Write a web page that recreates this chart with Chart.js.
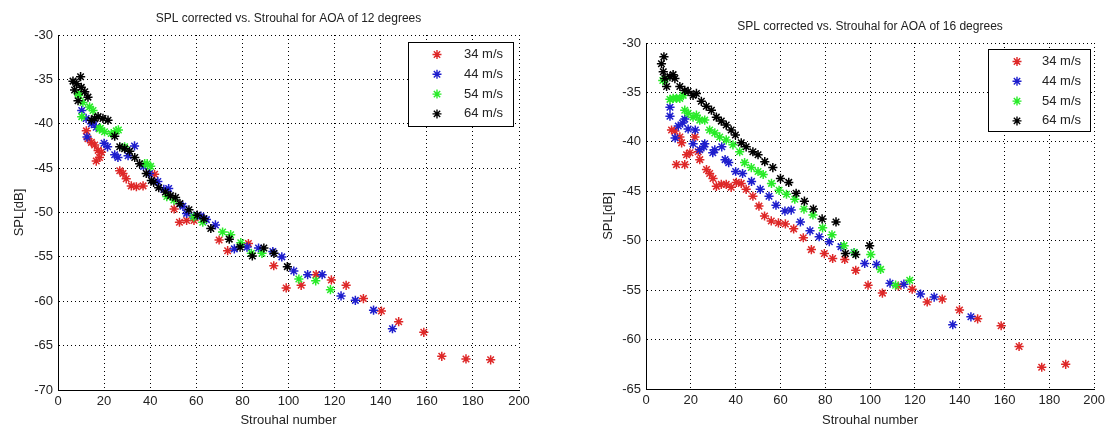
<!DOCTYPE html>
<html>
<head>
<meta charset="utf-8">
<script src="https://cdn.jsdelivr.net/npm/chart.js@4.4.0/dist/chart.umd.min.js"></script>
<style>
  body { margin: 0; background: #fff; width: 1109px; height: 431px; overflow: hidden; }
  canvas { position: absolute; top: 0; }
</style>
</head>
<body>
<canvas id="left" width="555" height="431" style="left:0"></canvas>
<canvas id="right" width="554" height="431" style="left:555px"></canvas>
<script>
// speeds (legend labels)
const speeds = ["34 m/s", "44 m/s", "54 m/s", "64 m/s"];
const colors = ["rgb(222,40,40)", "rgb(30,30,205)", "rgb(40,235,40)", "rgb(0,0,0)"];

// AOA 12 degrees
const a12_34x = [12.3, 13, 14.5, 15.9, 17.4, 18.8, 18, 16.6, 26.8, 28.2, 29.6, 31.8, 34, 36.9, 41.9, 50.4, 52.7, 55.8, 59, 69.9, 73.6, 82.6, 93.6, 99, 105.5, 112, 118.6, 125, 132.5, 140.3, 147.8, 158.7, 166.5, 177, 187.7];
const a12_34y = [-40.8, -41.7, -42.1, -42.4, -43.0, -43.2, -43.8, -44.2, -45.3, -45.6, -46.2, -47.0, -47.1, -47.0, -45.7, -49.6, -51.1, -50.9, -50.9, -53.1, -54.3, -53.5, -56.0, -58.5, -58.2, -57.0, -57.6, -58.2, -59.7, -61.1, -62.3, -63.5, -66.2, -66.5, -66.6];
const a12_44x = [10.3, 12.2, 12.6, 14.5, 15.2, 16.6, 20, 21.5, 24.6, 26, 30.4, 33.2, 37.1, 39.7, 43.3, 45.9, 48, 54.2, 55.8, 58.9, 62, 64.4, 68.3, 76.5, 82, 87, 93.2, 97.1, 102.3, 108.3, 114.6, 122.8, 129, 136.9, 145.1];
const a12_44y = [-38.5, -39.4, -41.5, -40.0, -39.8, -40.4, -42.2, -42.6, -43.5, -43.8, -43.6, -42.5, -44.8, -45.6, -46.5, -47.4, -47.3, -49.3, -50.1, -50.4, -50.4, -50.8, -51.4, -54.1, -53.9, -54.0, -54.4, -55.0, -56.6, -57.0, -57.0, -59.4, -59.9, -61.0, -63.1];
const a12_54x = [8.7, 9.0, 10.3, 10.8, 13.7, 15.2, 18, 18.4, 20.2, 23.1, 25.3, 26.2, 28.9, 37.6, 38.7, 40.2, 47.2, 50.3, 58.9, 62.8, 71.4, 74.9, 79.3, 83.9, 88.5, 104.5, 111.8, 118.2];
const a12_54y = [-36.6, -36.8, -39.2, -37.6, -38.1, -38.5, -40.6, -40.5, -40.9, -41.1, -40.8, -40.7, -42.6, -44.5, -44.5, -44.8, -48.2, -48.6, -50.5, -51.1, -52.2, -52.5, -53.4, -54.6, -54.6, -57.5, -57.7, -58.7];
const a12_64x = [6.5, 8, 9.8, 7.2, 10.1, 11.6, 13, 8.7, 14.5, 15.9, 17.4, 19.5, 21.7, 24.6, 26.8, 28.9, 31.1, 33.3, 35.4, 38.3, 40.5, 41.5, 43.7, 46.6, 48.8, 51, 52.9, 56.8, 60.4, 63.3, 66.3, 74.3, 79, 84.3, 89.3, 93.7, 99.5];
const a12_64y = [-35.2, -35.5, -34.7, -36.2, -35.9, -36.4, -37.0, -37.4, -39.6, -39.4, -39.2, -39.4, -39.6, -41.4, -42.6, -42.8, -43.1, -43.8, -44.5, -45.6, -46.4, -46.6, -47.2, -47.7, -48.1, -48.3, -49.0, -49.7, -50.3, -50.7, -51.8, -53.0, -53.9, -54.9, -54.0, -54.6, -56.1];

// AOA 16 degrees
const a16_34x = [11.4, 12.9, 15.1, 15.9, 13.6, 17.3, 18.1, 19.6, 21.8, 23.3, 24, 27, 28.4, 29.9, 31.4, 33.6, 35.8, 38, 40.3, 42.5, 44.7, 47.7, 50.4, 52.9, 55.9, 59.1, 62.2, 65.9, 70.2, 73.8, 79.6, 83.3, 88.7, 93.6, 99.1, 105.5, 112.6, 118.8, 125.5, 132.2, 139.9, 148, 158.5, 166.5, 176.6, 187.3];
const a16_34y = [-38.8, -38.9, -39.5, -40.1, -42.3, -42.3, -41.3, -41.1, -39.5, -41.0, -41.8, -42.8, -43.2, -43.7, -44.5, -44.3, -44.3, -44.6, -44.1, -44.2, -44.8, -45.5, -46.5, -47.5, -48.0, -48.2, -48.3, -48.8, -49.7, -50.9, -51.3, -51.8, -51.9, -53.0, -54.5, -55.3, -54.6, -54.9, -56.2, -55.9, -57.0, -57.9, -58.6, -60.7, -62.8, -62.5];
const a16_44x = [10.7, 10.7, 13, 14.4, 16.3, 17.3, 18.8, 21, 22, 24, 25.8, 26.2, 29.8, 30.7, 33.8, 35.3, 36.9, 40, 43.1, 47.1, 51, 54.9, 58, 62, 64.8, 68.9, 73.2, 77.3, 81.8, 87, 92.9, 97.6, 102.9, 108.9, 115.1, 122.5, 128.6, 136.9, 145];
const a16_44y = [-36.5, -37.4, -39.6, -38.4, -38.1, -37.7, -38.7, -40.2, -38.8, -40.8, -40.5, -40.2, -41.1, -40.8, -40.5, -41.8, -42.1, -43.0, -43.2, -44.0, -44.8, -45.5, -46.4, -47.0, -46.9, -48.1, -49.0, -49.6, -50.1, -50.6, -51.2, -52.3, -52.4, -54.3, -54.4, -55.4, -55.7, -58.5, -57.7];
const a16_54x = [7.5, 8.4, 10.7, 12.1, 13.6, 15.1, 16.6, 17.3, 18.8, 21, 22.5, 24, 26.2, 28.4, 30.7, 32.9, 35.8, 38.8, 41.8, 44, 47, 50, 52.3, 56, 59.4, 62.7, 66.4, 70.5, 74.5, 78.8, 83, 88.4, 93, 100.3, 104.7, 111.4, 117.7];
const a16_54y = [-33.8, -33.7, -35.7, -35.6, -35.6, -35.6, -35.3, -36.8, -37.1, -37.5, -37.3, -37.8, -37.8, -38.8, -39.1, -39.5, -39.8, -40.3, -41.0, -42.1, -42.6, -43.0, -43.3, -44.2, -44.9, -45.3, -45.8, -46.8, -47.4, -48.7, -49.4, -50.5, -51.2, -51.4, -52.9, -54.5, -54.0];
const a16_64x = [8, 6.9, 7.7, 8.4, 10.7, 12.1, 12.9, 9.2, 15.1, 17.3, 18.8, 21, 22.5, 24.7, 26.9, 29.2, 31.4, 33.6, 35.8, 38, 39.9, 42.5, 44.7, 47.7, 50, 53, 56.6, 60, 63.7, 67, 70.7, 74.7, 78.6, 84.8, 89, 93.6, 99.8];
const a16_64y = [-31.4, -32.1, -32.9, -33.6, -33.4, -33.2, -33.6, -34.4, -34.4, -34.8, -34.9, -35.3, -35.1, -35.9, -36.4, -36.8, -37.5, -37.9, -38.3, -38.8, -39.3, -40.1, -40.5, -41.0, -41.3, -42.0, -42.6, -43.7, -44.1, -45.2, -46.0, -46.8, -47.8, -48.1, -51.3, -51.4, -50.5];

const FONT = '"Liberation Sans", Arial, sans-serif';
const TXT = "#222";

function pairs(xs, ys) {
    return xs.map((x, i) => ({ x: x, y: ys[i] }));
}

function star(ctx, x, y, r) {
    const d = r * Math.SQRT1_2;
    ctx.beginPath();
    ctx.moveTo(x - r, y); ctx.lineTo(x + r, y);
    ctx.moveTo(x, y - r); ctx.lineTo(x, y + r);
    ctx.moveTo(x - d, y - d); ctx.lineTo(x + d, y + d);
    ctx.moveTo(x - d, y + d); ctx.lineTo(x + d, y - d);
    ctx.stroke();
}

// title + boxed legend drawn like the matlab figure
const matlabBits = {
    id: "matlabBits",
    afterDraw(chart, args, o) {
        const { ctx, chartArea } = chart;
        ctx.save();
        ctx.font = "12px " + FONT;
        ctx.fillStyle = TXT;
        ctx.textAlign = "center";
        ctx.textBaseline = "middle";
        ctx.fillText(o.title, (chartArea.left + chartArea.right) / 2, o.titleY);

        const bx = Math.round(chartArea.right - o.boxRight - o.boxW);
        const by = Math.round(chartArea.top + o.boxTop);
        ctx.fillStyle = "#fff";
        ctx.fillRect(bx, by, o.boxW, o.boxH);
        ctx.strokeStyle = "#000";
        ctx.lineWidth = 1;
        ctx.strokeRect(bx + 0.5, by + 0.5, o.boxW, o.boxH);

        ctx.font = "13px " + FONT;
        ctx.textAlign = "left";
        chart.data.datasets.forEach((ds, i) => {
            const ry = by + 12.5 + i * 19.8;
            ctx.strokeStyle = ds.borderColor;
            ctx.lineWidth = 1.4;
            star(ctx, bx + 29, ry, 4.5);
            ctx.fillStyle = TXT;
            ctx.fillText(ds.label, bx + o.textX, ry);
        });
        ctx.restore();
    }
};

function makeChart(id, xs, ys, yMin, yLabelPad, area, bits) {
    const datasets = speeds.map((s, i) => ({
        label: s,
        data: pairs(xs[i], ys[i]),
        borderColor: colors[i],
        backgroundColor: colors[i],
        pointStyle: "star",
        pointRadius: 4.6,
        borderWidth: 1.5,
        showLine: false,
        order: 3 - i
    }));

    return new Chart(document.getElementById(id), {
        type: "scatter",
        data: { datasets: datasets },
        plugins: [matlabBits],
        options: {
            responsive: false,
            animation: false,
            devicePixelRatio: 1,
            layout: { padding: { top: area.top, right: area.right, left: 0, bottom: 0 } },
            plugins: {
                legend: { display: false },
                tooltip: { enabled: false },
                matlabBits: bits
            },
            scales: {
                x: {
                    type: "linear",
                    min: 0, max: 200,
                    ticks: { stepSize: 20, color: TXT, font: { family: FONT, size: 13 }, padding: 4, maxRotation: 0 },
                    grid: { color: "#000", lineWidth: 1, drawTicks: false },
                    border: { display: true, color: "#000", width: 1, dash: [1, 3] },
                    title: { display: true, text: "Strouhal number", color: TXT, font: { family: FONT, size: 13 }, padding: { top: 0, bottom: 3 } },
                    afterFit: (sc) => { sc.height = 431 - area.bottom; }
                },
                y: {
                    type: "linear",
                    min: yMin, max: -30,
                    ticks: { stepSize: 5, color: TXT, font: { family: FONT, size: 13 }, padding: 5 },
                    grid: { color: "#000", lineWidth: 1, drawTicks: false },
                    border: { display: true, color: "#000", width: 1, dash: [1, 3] },
                    title: { display: true, text: "SPL[dB]", color: TXT, font: { family: FONT, size: 13 }, padding: { top: yLabelPad, bottom: 0 } },
                    afterFit: (sc) => { sc.width = area.left; }
                }
            }
        }
    });
}

const leftChart = makeChart("left",
    [a12_34x, a12_44x, a12_54x, a12_64x],
    [a12_34y, a12_44y, a12_54y, a12_64y],
    -70, 12,
    { left: 58, right: 36, top: 35, bottom: 390 },
    { title: "SPL corrected vs. Strouhal for AOA of 12 degrees", titleY: 19, boxRight: 6, boxTop: 7, boxW: 105, boxH: 84, textX: 56 });

const rightChart = makeChart("right",
    [a16_34x, a16_44x, a16_54x, a16_64x],
    [a16_34y, a16_44y, a16_54y, a16_64y],
    -65, 46,
    { left: 91, right: 13, top: 43, bottom: 389 },
    { title: "SPL corrected vs. Strouhal for AOA of 16 degrees", titleY: 27, boxRight: 4, boxTop: 6, boxW: 102, boxH: 82, textX: 54 });
</script>
</body>
</html>
